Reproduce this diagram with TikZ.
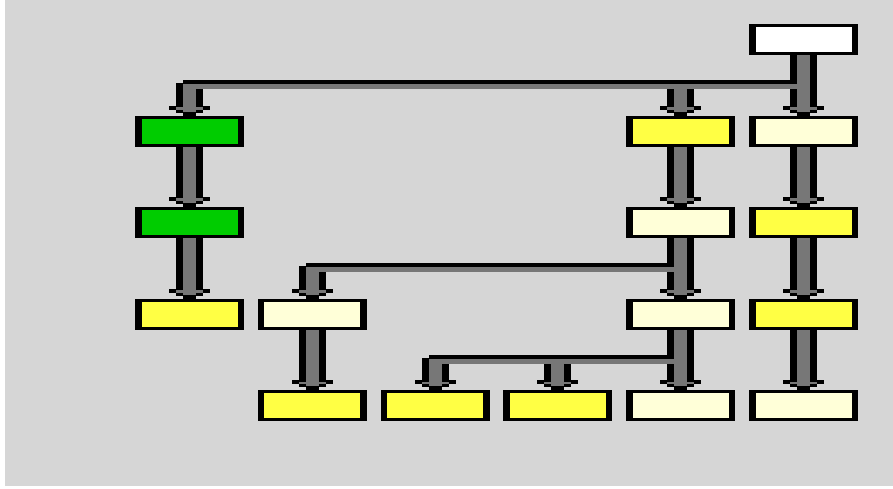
\documentclass[tikz,border=0pt]{standalone}
\usetikzlibrary{calc}
\definecolor{bggray}{HTML}{D6D6D6}
\definecolor{shaftg}{HTML}{777777}
\definecolor{boxgreen}{HTML}{00CC00}
\definecolor{boxyellow}{HTML}{FFFF44}
\definecolor{boxlight}{HTML}{FFFFD8}
\pgfdeclarelayer{back}
\pgfdeclarelayer{conn}
\pgfsetlayers{back,conn,main}
\tikzset{
  box/.style={rectangle, fill=black, minimum width=109pt, minimum height=31pt,
    inner sep=0pt, outer sep=0pt,
    path picture={\fill[#1] ([xshift=6.5pt,yshift=3pt]path picture bounding box.south west)
      rectangle ([xshift=-6.5pt,yshift=-3pt]path picture bounding box.north east);}}
}
% vertical arrow from a coordinate to the top of a node
\newcommand{\varr}[2]{%
  \fill[black] ([xshift=-13.5pt]#1) rectangle ([xshift=13.5pt,yshift=3pt]#2.north);
  \fill[black] ([xshift=-20.5pt,yshift=10pt]#2.north) rectangle ([xshift=20.5pt,yshift=6pt]#2.north);
  \fill[shaftg] ([xshift=-13.5pt,yshift=8.5pt]#2.north) rectangle ([xshift=13.5pt,yshift=6pt]#2.north);
  \fill[shaftg] ([xshift=-6.5pt]#1) rectangle ([xshift=6.5pt,yshift=4pt]#2.north);
  \fill[black] ([xshift=-6.5pt,yshift=4pt]#2.north) rectangle ([xshift=6.5pt]#2.north);
}
% horizontal branch between two node columns at a level coordinate
\newcommand{\hconn}[3]{%
  \fill[black] ($(#1.north |- #3)+(-6.5,-3)$) rectangle ($(#2.north |- #3)+(-6.5,6)$);
  \fill[shaftg] ($(#1.north |- #3)+(-6.5,0.5)$) rectangle ($(#2.north |- #3)+(-6.5,6)$);
}
\begin{document}
\begin{tikzpicture}[x=1pt,y=-1pt]
\useasboundingbox (0,0) rectangle (893,488);
\begin{pgfonlayer}{back}
  \fill[white] (0,0) rectangle (893,488);
  \fill[bggray] (5,0) rectangle (893,486);
\end{pgfonlayer}
% boxes
\node[box=white] (a6) at (803.5,39.5) {};
\node[box=boxgreen] (b1) at (189.5,131) {};
\node[box=boxyellow] (b5) at (680.7,131) {};
\node[box=boxlight] (b6) at (803.5,131) {};
\node[box=boxgreen] (c1) at (189.5,222) {};
\node[box=boxlight] (c5) at (680.7,222) {};
\node[box=boxyellow] (c6) at (803.5,222) {};
\node[box=boxyellow] (d1) at (189.5,314) {};
\node[box=boxlight] (d2) at (312.3,314) {};
\node[box=boxlight] (d5) at (680.7,314) {};
\node[box=boxyellow] (d6) at (803.5,314) {};
\node[box=boxyellow] (e2) at (312.3,405.5) {};
\node[box=boxyellow] (e3) at (435.1,405.5) {};
\node[box=boxyellow] (e4) at (557.9,405.5) {};
\node[box=boxlight] (e5) at (680.7,405.5) {};
\node[box=boxlight] (e6) at (803.5,405.5) {};
% branch levels
\coordinate (h1) at (0,83);
\coordinate (h2) at (0,266);
\coordinate (h3) at (0,358);
\coordinate (s1) at (b1.north |- h1);
\coordinate (s5) at (b5.north |- h1);
\coordinate (s2) at (d2.north |- h2);
\coordinate (s3) at (e3.north |- h3);
\coordinate (s4) at (e4.north |- h3);
\begin{pgfonlayer}{conn}
  \varr{a6.south}{b6}
  \varr{b6.south}{c6}
  \varr{c6.south}{d6}
  \varr{d6.south}{e6}
  \varr{b1.south}{c1}
  \varr{c1.south}{d1}
  \varr{b5.south}{c5}
  \varr{c5.south}{d5}
  \varr{d5.south}{e5}
  \varr{d2.south}{e2}
  \varr{s1}{b1}
  \varr{s5}{b5}
  \varr{s2}{d2}
  \varr{s3}{e3}
  \varr{s4}{e4}
  \hconn{b1}{b6}{h1}
  \hconn{d2}{d5}{h2}
  \hconn{e3}{e5}{h3}
\end{pgfonlayer}
\end{tikzpicture}
\end{document}
